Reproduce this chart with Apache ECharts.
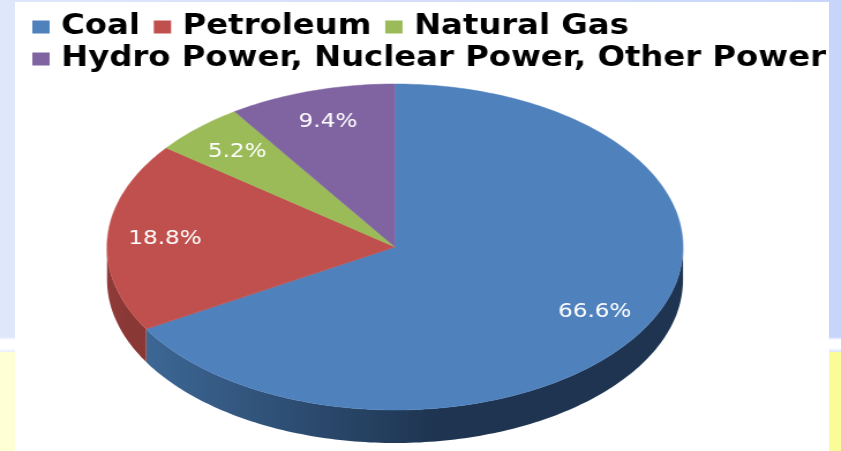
<!DOCTYPE html>
<html>
<head>
<meta charset="utf-8">
<script src="https://cdn.jsdelivr.net/npm/echarts@6/dist/echarts.min.js"></script>
<style>
  html, body { margin: 0; padding: 0; background: #fff; overflow: hidden; }
  /* slide behind the chart, blue on top, yellow below */
  #slide {
    position: absolute; left: 0; top: 0; width: 841px; height: 451px;
    background:
      linear-gradient(to bottom, transparent 0, transparent 337px, #fff 340px, #fff 348px, transparent 354px),
      linear-gradient(to right, #dfe7fb, #c8d5fb);
  }
  #yellow {
    position: absolute; left: 0; top: 352px; width: 841px; height: 99px;
    background: linear-gradient(to right, #ffffd6, #fbfb98);
  }
  #panel { position: absolute; left: 15px; top: 2px; width: 814px; height: 449px; background: #fff; }
  /* the source picture is stretched sideways, so the chart is too */
  #chart {
    position: absolute; left: 0; top: 0; width: 729px; height: 451px;
    transform: scaleX(1.1536); transform-origin: 0 0;
  }
</style>
</head>
<body>
<div id="slide"></div>
<div id="yellow"></div>
<div id="panel"></div>
<div id="chart"></div>
<script>
const categories = ['Coal', 'Petroleum', 'Natural Gas', 'Hydro Power, Nuclear Power, Other Power']
const shares = [66.6, 18.8, 5.2, 9.4]
const colors = ['#4f81bd', '#c0504d', '#9bbb59', '#8064a2']
const wallLeft = ['#3d6795', '#8f3b39', '#74903f', '#5f4a7a']
const wallRight = ['#1e3450', '#8a3836', '#6f8a3c', '#5c4776']

const stretch = 1.1536
const cx = 395 / stretch
const cy = 247
const rx = 288 / stretch
const ry = 163
const depth = 33
const total = shares.reduce((a, b) => a + b, 0)

function point(deg, dy) {
  const r = deg * Math.PI / 180
  return [cx + rx * Math.sin(r), cy - ry * Math.cos(r) + (dy || 0)]
}

function arc(from, to, dy) {
  const pts = []
  for (let a = from; a < to; a += 1) pts.push(point(a, dy))
  pts.push(point(to, dy))
  return pts
}

function renderSlice(index) {
  return function (params, api) {
    const from = api.value(0) / total * 360
    const to = from + api.value(1) / total * 360
    const mid = (from + to) / 2
    const children = []
    // only the front half of the rim shows
    const wallFrom = Math.max(from, 90)
    const wallTo = Math.min(to, 270)
    if (wallFrom < wallTo) {
      children.push({
        type: 'polygon',
        shape: { points: arc(wallFrom, wallTo, 0).concat(arc(wallFrom, wallTo, depth).reverse()) },
        style: {
          fill: new echarts.graphic.LinearGradient(0, 0, 1, 0, [
            { offset: 0, color: wallLeft[index] },
            { offset: 0.55, color: wallRight[index] },
            { offset: 1, color: wallRight[index] },
          ]),
        },
      })
    }
    children.push({
      type: 'polygon',
      shape: { points: [[cx, cy]].concat(arc(from, to, 0)) },
      style: { fill: colors[index], stroke: colors[index], lineWidth: 0.5 },
    })
    const r = mid * Math.PI / 180
    children.push({
      type: 'text',
      x: cx + 0.8 * rx * Math.sin(r),
      y: cy - 0.8 * ry * Math.cos(r),
      style: {
        text: api.value(1).toFixed(1) + '%',
        fill: '#fff',
        font: '20px "DejaVu Sans"',
        align: 'center',
        verticalAlign: 'middle',
      },
    })
    return { type: 'group', children: children }
  }
}

const chart = echarts.init(document.getElementById('chart'))
let running = 0
const series = categories.map((name, i) => {
  const start = running
  running += shares[i]
  return {
    name: name,
    type: 'custom',
    coordinateSystem: 'none',
    silent: true,
    itemStyle: { color: colors[i] },
    renderItem: renderSlice(i),
    data: [[start, shares[i]]],
  }
})

const legendBase = {
  icon: 'rect',
  orient: 'horizontal',
  itemWidth: 15,
  itemHeight: 13,
  itemGap: 12,
  selectedMode: false,
  left: 23,
  textStyle: {
    color: '#000',
    fontFamily: 'DejaVu Sans',
    fontWeight: 'bold',
    fontSize: 28,
    padding: [0, 0, 0, 5],
  },
}

chart.setOption({
  animation: false,
  backgroundColor: 'transparent',
  legend: [
    Object.assign({}, legendBase, { top: 8, data: categories.slice(0, 3) }),
    Object.assign({}, legendBase, { top: 40, data: categories.slice(3) }),
  ],
  series: series,
})
</script>
</body>
</html>
